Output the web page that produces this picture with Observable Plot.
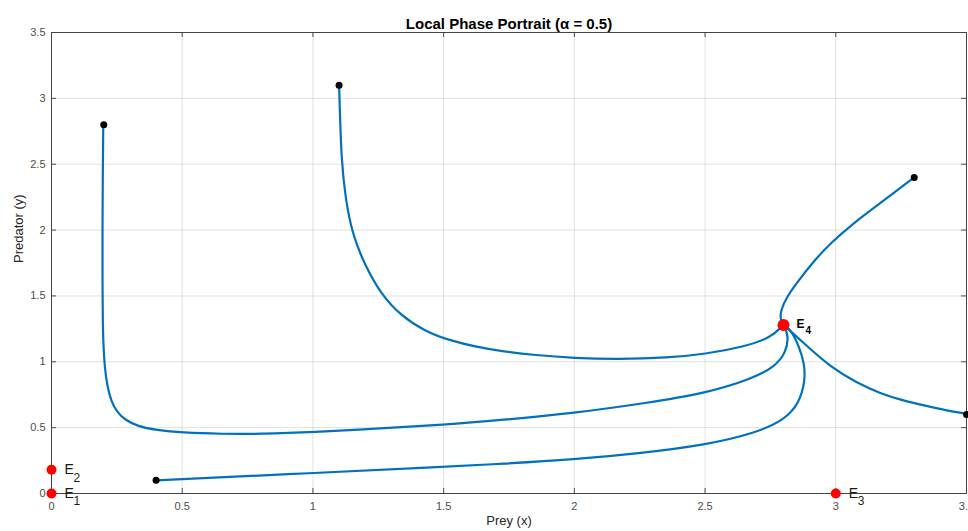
<!DOCTYPE html>
<html>
<head>
<meta charset="utf-8">
<script src="https://cdn.jsdelivr.net/npm/d3@7"></script>
<script src="https://cdn.jsdelivr.net/npm/@observablehq/plot@0.6"></script>
<style>
  html, body { margin: 0; padding: 0; background: #fff; }
  #chart svg { display: block; }
</style>
</head>
<body>
<div id="chart"></div>
<script>
// ---- Data ----
const xTicks = [0, 0.5, 1, 1.5, 2, 2.5, 3, 3.5];
const yTicks = [0, 0.5, 1, 1.5, 2, 2.5, 3, 3.5];

const traj1 = [[0.198,2.80],[0.196,2.4],[0.195,2.0],[0.195,1.6],[0.196,1.3],[0.199,1.1],[0.204,0.95],[0.213,0.82],[0.228,0.70],[0.25,0.62],[0.28,0.56],[0.33,0.51],[0.40,0.482],[0.50,0.462],[0.65,0.452],[0.80,0.452],[1.0,0.465],[1.26,0.495],[1.5,0.522],[1.72,0.558],[2.0,0.61],[2.27,0.685],[2.5,0.76],[2.68,0.872],[2.765,0.96],[2.81,1.07],[2.82,1.2],[2.80,1.28]];
const traj2 = [[1.10,3.10],[1.103,2.91],[1.109,2.53],[1.125,2.23],[1.151,1.97],[1.196,1.745],[1.259,1.517],[1.336,1.35],[1.43,1.23],[1.527,1.16],[1.62,1.115],[1.72,1.08],[1.85,1.05],[2.0,1.028],[2.165,1.019],[2.357,1.03],[2.5,1.058],[2.65,1.115],[2.75,1.18],[2.80,1.28]];
const traj3 = [[3.30,2.40],[3.186,2.227],[3.059,2.04],[2.98,1.9],[2.918,1.77],[2.855,1.61],[2.81,1.485],[2.79,1.39],[2.787,1.327],[2.80,1.28]];
const traj4 = [[3.50,0.605],[3.42,0.632],[3.34,0.668],[3.25,0.71],[3.173,0.757],[3.08,0.84],[2.98,0.96],[2.89,1.12],[2.80,1.28]];
const traj5 = [[0.40,0.10],[1.0,0.155],[1.5,0.203],[1.72,0.225],[2.0,0.258],[2.255,0.306],[2.503,0.369],[2.69,0.457],[2.804,0.558],[2.86,0.685],[2.883,0.856],[2.88,0.987],[2.86,1.113],[2.83,1.24],[2.80,1.28]];

const startX = [0.2, 1.1, 3.3, 3.5, 0.4];
const startY = [2.8, 3.1, 2.4, 0.6, 0.1];

const eqNames = ["1", "2", "3", "4"];
const eqX = [0, 0, 3, 2.8];
const eqY = [0, 0.18, 0, 1.28];

// ---- Build tables ----
const trajectories = [traj1, traj2, traj3, traj4, traj5]
  .flatMap((t, i) => t.map(([x, y]) => ({id: i, x, y})));
const starts = startX.map((x, i) => ({x, y: startY[i]}));
const eqs = eqX.map((x, i) => ({x, y: eqY[i], sub: eqNames[i], main: i === 3}));
const eqMinor = eqs.filter(d => !d.main);
const eqMain = eqs.filter(d => d.main);

const W = 968, H = 531, mL = 51, mR = 2, mT = 32, mB = 38;
const fw = W - mL - mR, fh = H - mT - mB;
const axisColor = "#4d4d4d";

const chart = Plot.plot({
  width: W, height: H,
  marginLeft: mL, marginRight: mR, marginTop: mT, marginBottom: mB,
  style: {fontFamily: "'Liberation Sans', Arial, Helvetica, sans-serif", background: "#fff", overflow: "hidden"},
  x: {domain: [0, 3.5]},
  y: {domain: [0, 3.5]},
  marks: [
    Plot.gridX(xTicks, {stroke: "#000", strokeOpacity: 0.12}),
    Plot.gridY(yTicks, {stroke: "#000", strokeOpacity: 0.12}),
    // inward tick marks (bottom/top/left/right)
    Plot.ruleX(xTicks, {x: d => d, insetTop: fh - 5, stroke: axisColor}),
    Plot.ruleX(xTicks, {x: d => d, insetBottom: fh - 5, stroke: axisColor}),
    Plot.ruleY(yTicks, {y: d => d, insetRight: fw - 5, stroke: axisColor}),
    Plot.ruleY(yTicks, {y: d => d, insetLeft: fw - 5, stroke: axisColor}),
    Plot.axisX(xTicks, {tickSize: 0, tickPadding: 9, fontSize: 11, fill: axisColor, tickFormat: d => String(d), label: null}),
    Plot.axisY(yTicks, {tickSize: 0, tickPadding: 6, fontSize: 11, fill: axisColor, tickFormat: d => String(d), label: null}),
    Plot.frame({stroke: "#444"}),
    // trajectories
    Plot.line(trajectories, {x: "x", y: "y", z: "id", stroke: "#0072BD", strokeWidth: 2.2, curve: "basis"}),
    Plot.dot(starts, {x: "x", y: "y", r: 3.5, fill: "#000"}),
    // equilibria
    Plot.dot(eqMinor, {x: "x", y: "y", r: 5, fill: "#ff0000"}),
    Plot.dot(eqMain, {x: "x", y: "y", r: 6, fill: "#ff0000"}),
    Plot.text(eqMinor, {x: "x", y: "y", text: () => "E", dx: 13, dy: 0, textAnchor: "start", fontSize: 14, fill: "#1a1a1a"}),
    Plot.text(eqMinor, {x: "x", y: "y", text: "sub", dx: 22, dy: 8, textAnchor: "start", fontSize: 12, fill: "#1a1a1a"}),
    Plot.text(eqMain, {x: "x", y: "y", text: () => "E", dx: 13, dy: -1, textAnchor: "start", fontSize: 12, fontWeight: "bold", fill: "#000"}),
    Plot.text(eqMain, {x: "x", y: "y", text: "sub", dx: 22, dy: 6, textAnchor: "start", fontSize: 10, fontWeight: "bold", fill: "#000"}),
    // titles
    Plot.text(["Local Phase Portrait (α = 0.5)"], {text: d => d, frameAnchor: "top", dy: -14, fontSize: 15, fontWeight: "bold", fill: "#000"}),
    Plot.text(["Prey (x)"], {text: d => d, frameAnchor: "bottom", dy: 31, fontSize: 13, fill: "#262626"}),
    Plot.text(["Predator (y)"], {text: d => d, frameAnchor: "left", dx: -33, rotate: -90, fontSize: 13, fill: "#262626"})
  ]
});
document.getElementById("chart").append(chart);
</script>
</body>
</html>
